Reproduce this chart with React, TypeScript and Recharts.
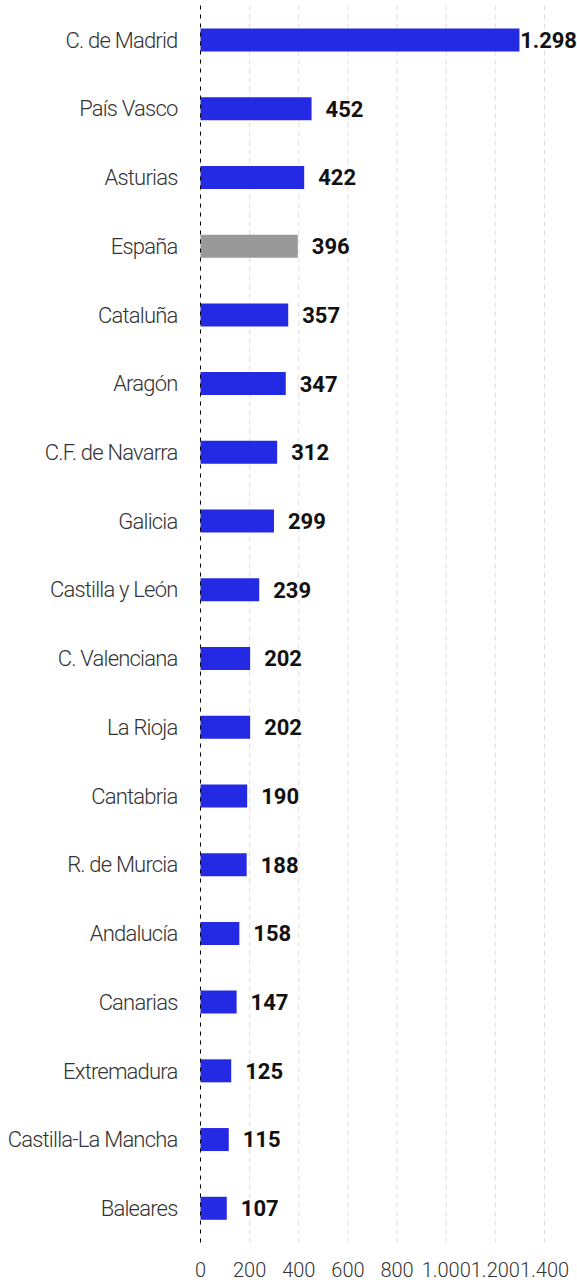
import React from "react";
import { BarChart, Bar, XAxis, YAxis, CartesianGrid, Cell, LabelList } from "recharts";

const regions = [
  "C. de Madrid",
  "País Vasco",
  "Asturias",
  "España",
  "Cataluña",
  "Aragón",
  "C.F. de Navarra",
  "Galicia",
  "Castilla y León",
  "C. Valenciana",
  "La Rioja",
  "Cantabria",
  "R. de Murcia",
  "Andalucía",
  "Canarias",
  "Extremadura",
  "Castilla-La Mancha",
  "Baleares",
];

const values = [1298, 452, 422, 396, 357, 347, 312, 299, 239, 202, 202, 190, 188, 158, 147, 125, 115, 107];

const xTicks = [0, 200, 400, 600, 800, 1000, 1200, 1400];

const BLUE = "#2429E4";
const GRAY = "#999999";
const WIDTH = 577;
const HEIGHT = 1283;

// miles con punto, también en cifras de cuatro dígitos
const fmt = (v: number) => String(v).replace(/\B(?=(\d{3})+(?!\d))/g, ".");

const chartData = regions.map((name, i) => ({ name, value: values[i] }));

const ValueLabel = (props: any) => {
  const { x, y, width, height, value } = props;
  const text = fmt(value);
  const end = x + width;
  const approx = text.length * 12;
  const overflow = end + 14 + approx > WIDTH;
  return (
    <text
      x={overflow ? WIDTH : end + 14}
      y={y + height / 2}
      dy="0.36em"
      textAnchor={overflow ? "end" : "start"}
      fontFamily="Roboto"
      fontWeight={700}
      fontSize={22}
      fill="#111"
    >
      {text}
    </text>
  );
};

export default function App() {
  return (
    <div style={{ position: "absolute", left: 0, top: 0, width: WIDTH, height: HEIGHT, background: "#fff" }}>
      <BarChart
        width={WIDTH}
        height={HEIGHT}
        data={chartData}
        layout="vertical"
        margin={{ top: 5.5, right: 32.5, bottom: 0, left: 0 }}
        barCategoryGap={0}
      >
        <CartesianGrid horizontal={false} stroke="#dddddd" strokeDasharray="5 4" />
        <XAxis
          type="number"
          domain={[0, 1400]}
          ticks={xTicks}
          tickFormatter={fmt}
          axisLine={false}
          tickLine={false}
          tickSize={0}
          tickMargin={20}
          height={40.5}
          interval={0}
          tick={{ fontFamily: "Roboto", fontWeight: 300, fontSize: 20, fill: "#333" }}
        />
        <YAxis
          type="category"
          dataKey="name"
          width={200.5}
          axisLine={{ stroke: "#000", strokeDasharray: "4 5" }}
          tickLine={false}
          tickSize={0}
          tickMargin={23}
          interval={0}
          tick={{ fontFamily: "Roboto", fontWeight: 300, fontSize: 22, letterSpacing: -0.8, fill: "#333" }}
        />
        <Bar dataKey="value" barSize={23} isAnimationActive={false}>
          {chartData.map((d, i) => (
            <Cell key={`c-${i}`} fill={d.name === "España" ? GRAY : BLUE} />
          ))}
          <LabelList dataKey="value" content={ValueLabel} />
        </Bar>
      </BarChart>
    </div>
  );
}
